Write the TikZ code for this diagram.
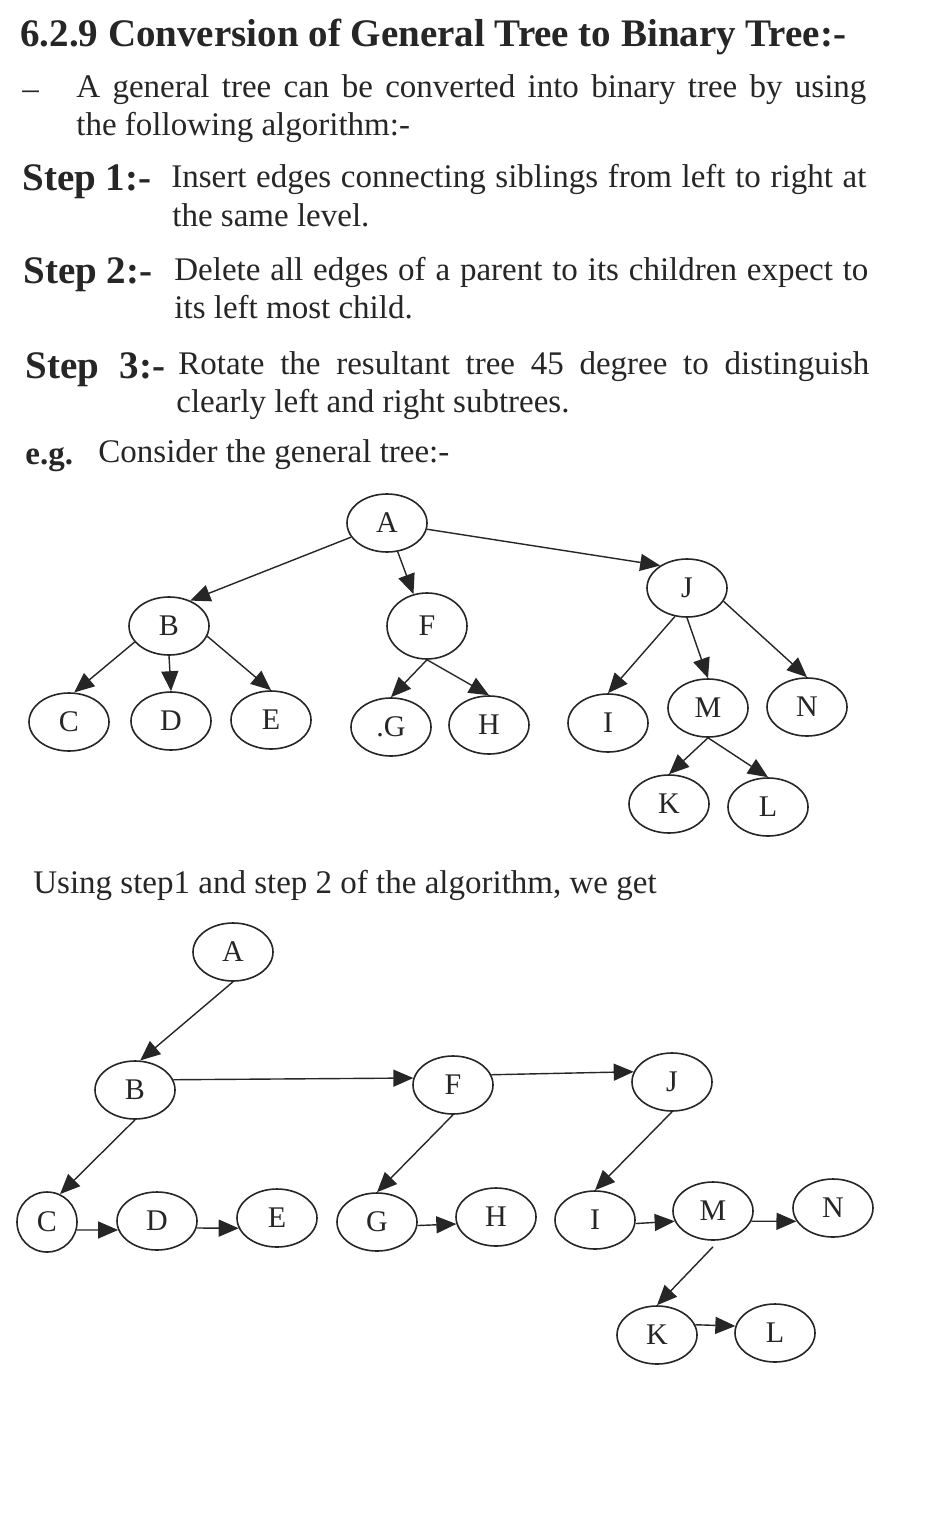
\documentclass[tikz,border=0pt]{standalone}
\usepackage{fontspec}
\setmainfont{Liberation Serif}
\usetikzlibrary{shapes.geometric,arrows.meta}
\tikzset{
  tnode/.style={ellipse, draw=black!85, line width=0.8pt, minimum width=40pt, minimum height=29pt, inner sep=0pt, font=\fontsize{15}{17}\selectfont, text=black!85},
  arr/.style={draw=black!85, line width=0.7pt, -{Triangle[length=10pt,width=8.5pt]}},
  txt/.style={anchor=base west, inner sep=0pt, text=black!85, font=\fontsize{16.5}{19}\selectfont},
  ttl/.style={txt, font=\bfseries\fontsize{19.5}{22}\selectfont},
  bsm/.style={txt, font=\bfseries\fontsize{16.5}{19}\selectfont},
}
\begin{document}
\begin{tikzpicture}[x=0.5pt,y=-0.5pt]
\fill[white] (0,0) rectangle (935,1524);
\useasboundingbox (0,0) rectangle (935,1524);

% ---------------- text ----------------
\node[ttl] (title) at (20,47) {6.2.9 Conversion of General Tree to Binary Tree:-};
\node[txt] (dash) at (22,100) {–};
\node[txt] (l1) at (76,98) {\makebox[395pt][s]{A general tree can be converted into binary tree by using}};
\node[txt] (l2) at (76,136) {the following algorithm:-};
\node[ttl] (s1) at (22,191) {Step 1:-};
\node[txt] (s1a) at (171,188) {\makebox[347.5pt][s]{Insert edges connecting siblings from left to right at}};
\node[txt] (s1b) at (172,227) {the same level.};
\node[ttl] (s2) at (23,284) {Step 2:-};
\node[txt] (s2a) at (174,281) {\makebox[347pt][s]{Delete all edges of a parent to its children expect to}};
\node[txt] (s2b) at (174,319) {its left most child.};
\node[ttl] (s3) at (25,379) {\makebox[70pt][s]{Step 3:-}};
\node[txt] (s3a) at (178,374) {\makebox[345.5pt][s]{Rotate the resultant tree 45 degree to distinguish}};
\node[txt] (s3b) at (176,412) {clearly left and right subtrees.};
\node[bsm] (eg) at (25,464) {e.g.};
\node[txt] (egt) at (98,462) {Consider the general tree:-};
\node[txt] (using) at (33,893) {Using step1 and step 2 of the algorithm, we get};

% ---------------- general tree ----------------
\node[tnode] (tA) at (387,523) {A};
\node[tnode] (tB) at (169,626) {B};
\node[tnode, minimum height=33pt] (tF) at (427,626) {F};
\node[tnode] (tJ) at (687,588) {J};
\node[tnode] (tC) at (69,722) {C};
\node[tnode] (tD) at (171,721) {D};
\node[tnode] (tE) at (271,720) {E};
\node[tnode] (tG) at (391,727) {.G};
\node[tnode] (tH) at (489,725) {H};
\node[tnode] (tI) at (608,723) {I};
\node[tnode] (tM) at (708,708) {M};
\node[tnode] (tN) at (807,707) {N};
\node[tnode] (tK) at (669,804) {K};
\node[tnode] (tL) at (768,807) {L};

\draw[arr] (tA) -- (tB.50);
\draw[arr] (tA) -- (tF.113);
\draw[arr] (tA) -- (tJ.140);
\draw[arr] (tB.205) -- (tC.80);
\draw[arr] (tB.south) -- (tD.north);
\draw[arr] (tB.-15) -- (tE.north);
\draw[arr] (tF.south) -- (tG.north);
\draw[arr] (tF.south) -- (tH.north);
\draw[arr] (tJ.247) -- (tI.north);
\draw[arr] (tJ.south) -- (tM.north);
\draw[arr] (tJ.-20) -- (tN.north);
\draw[arr] (tM.south) -- (tK.north);
\draw[arr] (tM.south) -- (tL.north);

% ---------------- binary tree ----------------
\node[tnode] (bA) at (233,952) {A};
\node[tnode] (bB) at (135,1090) {B};
\node[tnode] (bF) at (453,1085) {F};
\node[tnode] (bJ) at (672,1082) {J};
\node[tnode, minimum width=30pt, minimum height=30pt] (bC) at (47,1222) {C};
\node[tnode] (bD) at (157,1221) {D};
\node[tnode] (bE) at (277,1218) {E};
\node[tnode] (bG) at (377,1222) {G};
\node[tnode] (bH) at (496,1217) {H};
\node[tnode] (bI) at (595,1220) {I};
\node[tnode] (bM) at (713,1211) {M};
\node[tnode] (bN) at (833,1208) {N};
\node[tnode] (bK) at (657,1335) {K};
\node[tnode] (bL) at (775,1333) {L};

\draw[arr] (bA.south) -- (bB.80);
\draw[arr] (bB.15) -- (bF.170);
\draw[arr] (bF.15) -- (bJ.165);
\draw[arr] (bB.south) -- (bC.65);
\draw[arr] (bF.south) -- (bG.north);
\draw[arr] (bJ.south) -- (bI.north);
\draw[arr] (bC.-15) -- (bD.193);
\draw[arr] (bD.-10) -- (bE.195);
\draw[arr] (bG.-5) -- (bH.190);
\draw[arr] (bI.-5) -- (bM.195);
\draw[arr] (bM.-15) -- (bN.200);
\draw[arr] ([yshift=-3pt]bM.south) -- (bK.north);
\draw[arr] (bK.15) -- (bL.170);
\end{tikzpicture}
\end{document}
